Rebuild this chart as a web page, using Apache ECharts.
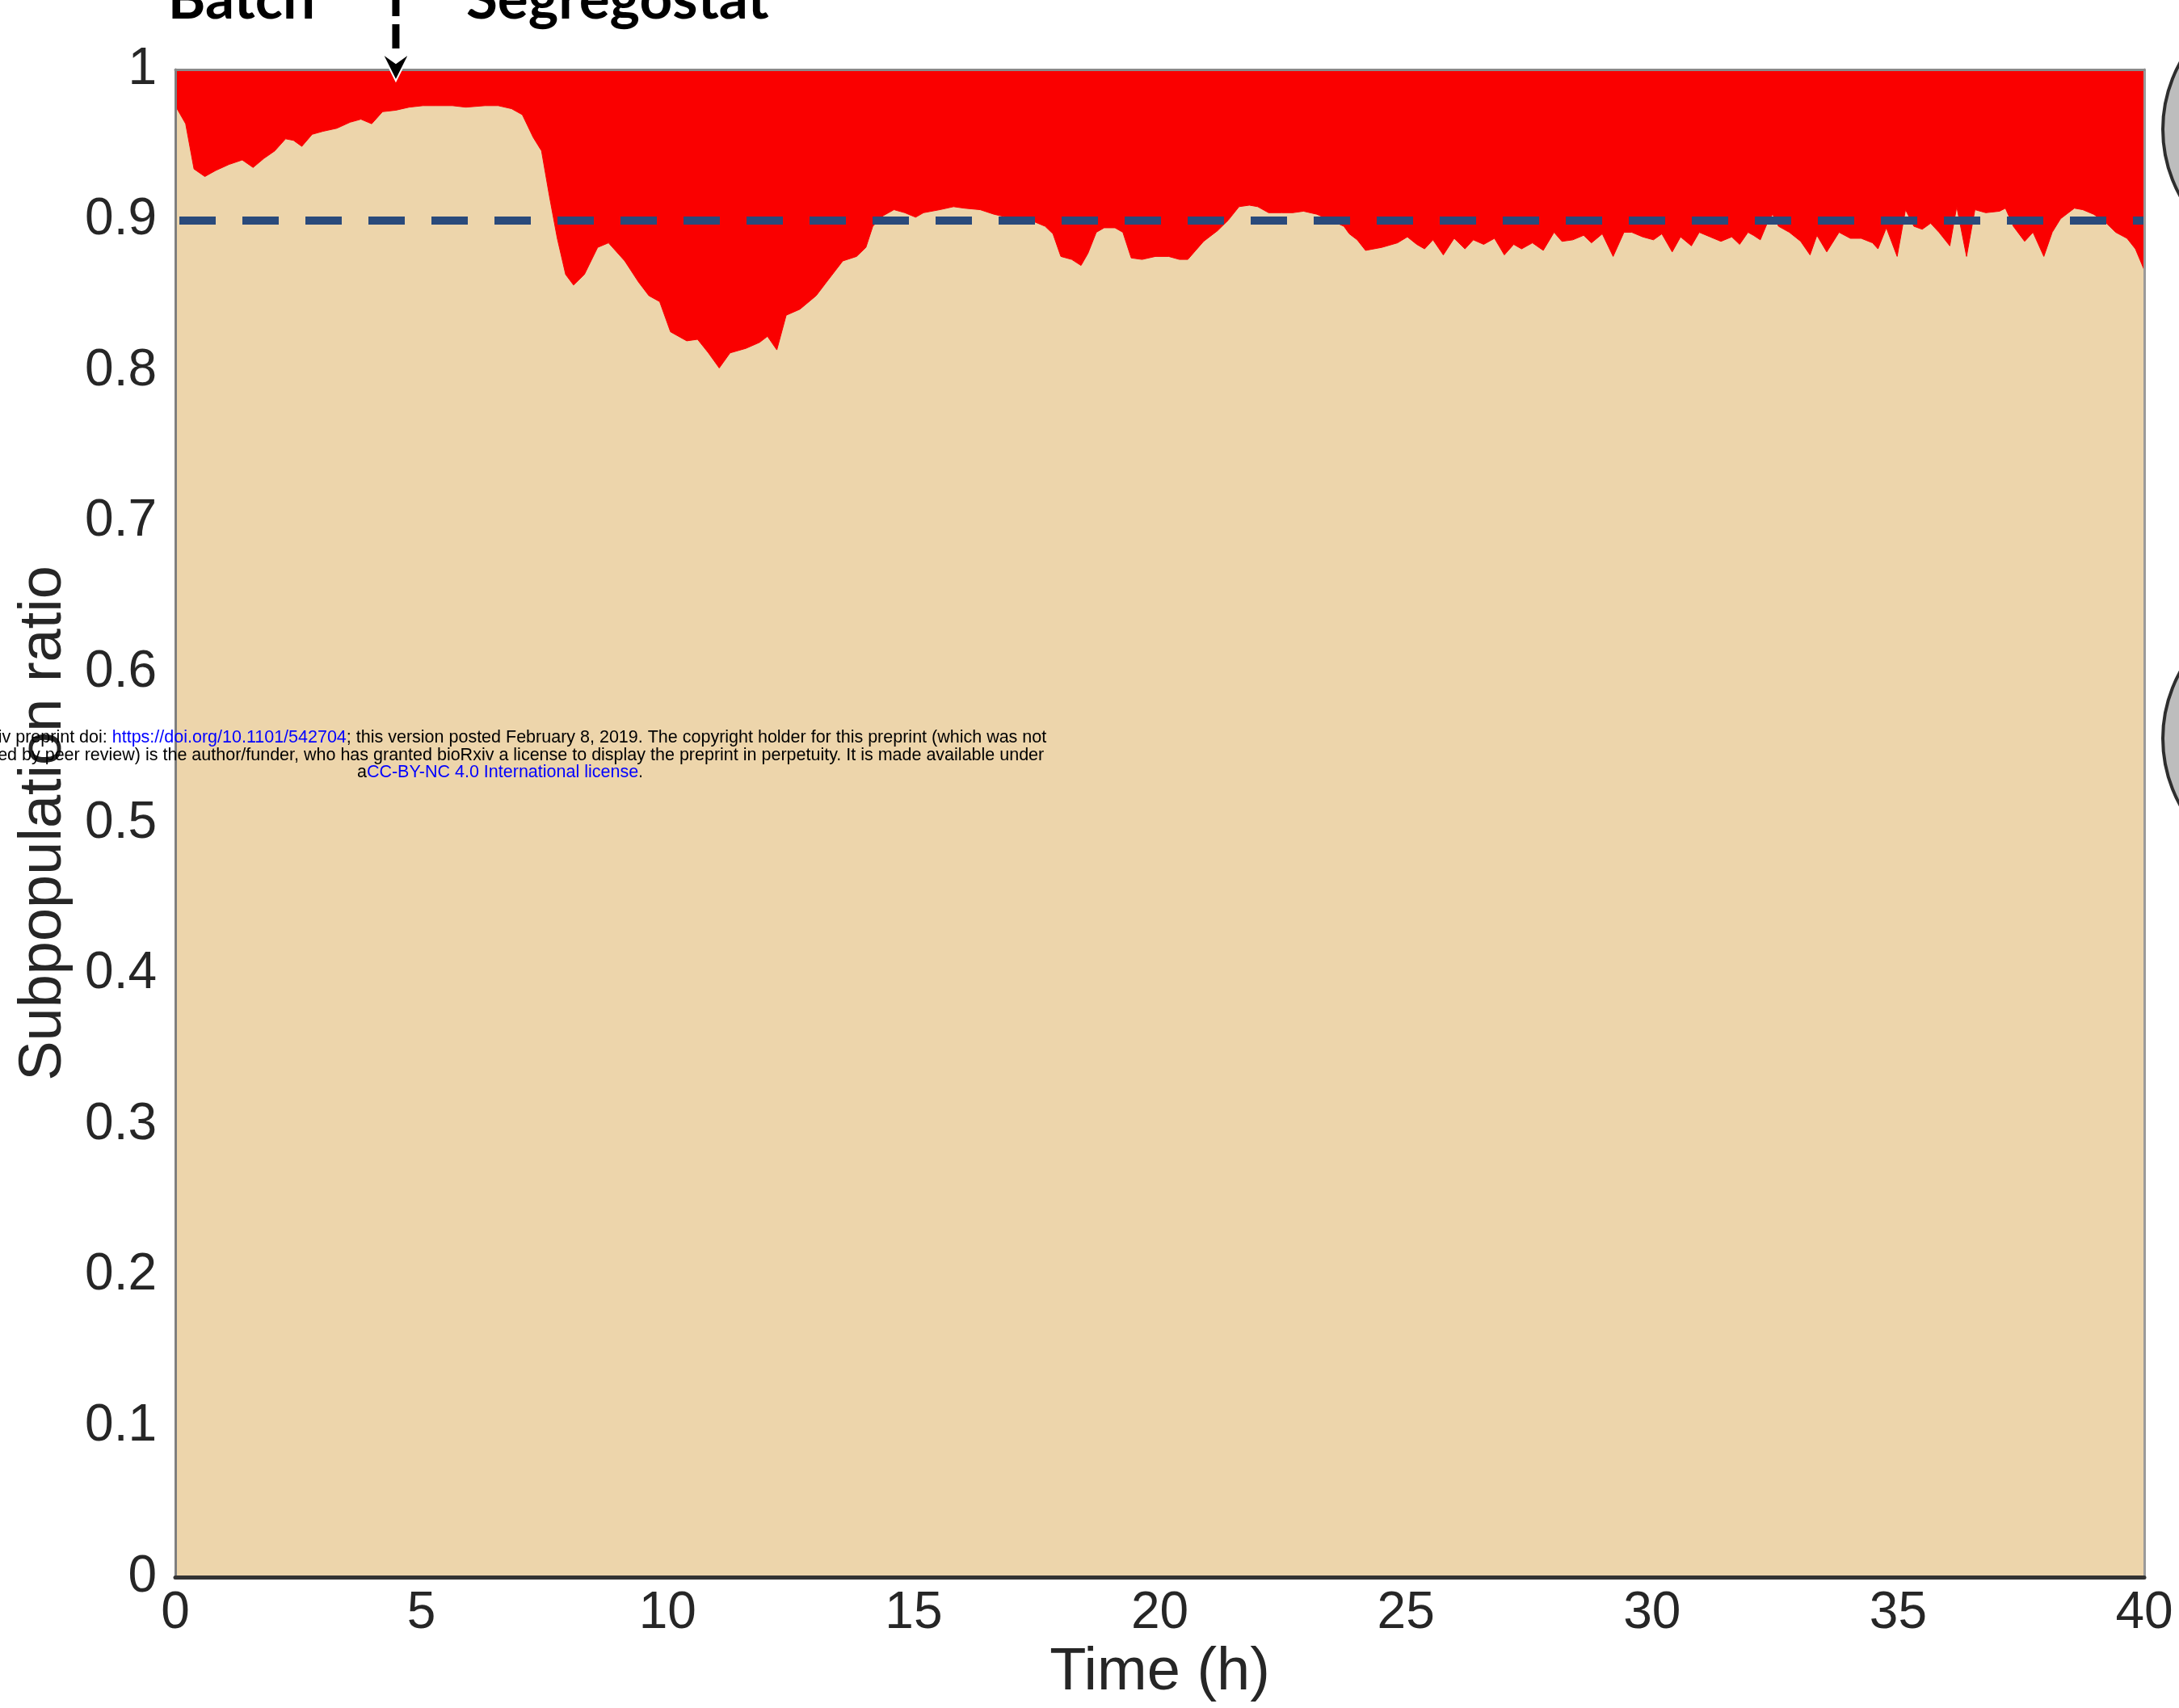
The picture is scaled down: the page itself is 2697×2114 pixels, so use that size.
<!DOCTYPE html>
<html>
<head>
<meta charset="utf-8">
<script src="https://cdn.jsdelivr.net/npm/echarts@6/dist/echarts.min.js"></script>
<style>
  html, body { margin: 0; padding: 0; background: #ffffff; }
  #chart { width: 2697px; height: 2114px; }
</style>
</head>
<body>
<div id="chart"></div>
<script>
// Time axis (h) and fraction of the majority subpopulation
const hours = [
  0.00, 0.21, 0.38, 0.60, 0.82, 1.09, 1.36, 1.58, 1.80, 2.02, 2.24, 2.40, 2.57, 2.78, 3.00,
  3.28, 3.55, 3.77, 3.99, 4.21, 4.48, 4.75, 5.03, 5.30, 5.63, 5.90, 6.29, 6.56, 6.83, 7.05,
  7.27, 7.44, 7.60, 7.76, 7.93, 8.09, 8.31, 8.58, 8.80, 9.13, 9.41, 9.62, 9.84, 10.06, 10.39,
  10.61, 10.83, 11.05, 11.27, 11.59, 11.87, 12.03, 12.22, 12.41, 12.69, 13.02, 13.23, 13.56, 13.84, 14.03,
  14.17, 14.38, 14.60, 14.82, 15.04, 15.20, 15.53, 15.81, 16.03, 16.35, 16.63, 16.90, 17.23, 17.45, 17.67,
  17.83, 17.99, 18.21, 18.40, 18.54, 18.71, 18.87, 19.09, 19.25, 19.42, 19.64, 19.91, 20.18, 20.40, 20.57,
  20.73, 20.89, 21.17, 21.39, 21.61, 21.82, 21.99, 22.21, 22.48, 22.70, 22.92, 23.19, 23.47, 23.74, 23.85,
  24.01, 24.18, 24.51, 24.83, 25.03, 25.22, 25.38, 25.55, 25.76, 25.98, 26.20, 26.37, 26.58, 26.80, 27.00,
  27.19, 27.35, 27.57, 27.79, 28.01, 28.17, 28.39, 28.61, 28.77, 28.99, 29.21, 29.43, 29.59, 29.81, 30.03,
  30.20, 30.41, 30.58, 30.80, 30.96, 31.18, 31.40, 31.62, 31.78, 31.95, 32.06, 32.20, 32.34, 32.45, 32.57,
  32.79, 33.02, 33.21, 33.35, 33.55, 33.80, 34.03, 34.25, 34.48, 34.59, 34.76, 34.98, 35.15, 35.32, 35.49,
  35.66, 35.83, 36.05, 36.19, 36.39, 36.56, 36.78, 37.06, 37.18, 37.34, 37.57, 37.74, 37.96, 38.13, 38.30,
  38.58, 38.75, 38.97, 39.20, 39.42, 39.65, 39.82, 40.00
];
const ratio = [
  0.976, 0.964, 0.934, 0.929, 0.933, 0.937, 0.940, 0.935, 0.941, 0.946, 0.954, 0.953, 0.949, 0.957, 0.959,
  0.961, 0.965, 0.967, 0.964, 0.972, 0.973, 0.975, 0.976, 0.976, 0.976, 0.975, 0.976, 0.976, 0.974, 0.970,
  0.955, 0.946, 0.916, 0.888, 0.864, 0.857, 0.864, 0.882, 0.885, 0.873, 0.859, 0.850, 0.846, 0.826, 0.820,
  0.821, 0.812, 0.802, 0.812, 0.815, 0.819, 0.823, 0.814, 0.837, 0.841, 0.850, 0.859, 0.873, 0.876, 0.882,
  0.896, 0.903, 0.907, 0.905, 0.902, 0.905, 0.907, 0.909, 0.908, 0.907, 0.904, 0.902, 0.901, 0.899, 0.896,
  0.891, 0.876, 0.874, 0.870, 0.878, 0.892, 0.895, 0.895, 0.892, 0.875, 0.874, 0.876, 0.876, 0.874, 0.874,
  0.880, 0.886, 0.893, 0.900, 0.909, 0.910, 0.909, 0.905, 0.905, 0.905, 0.906, 0.904, 0.900, 0.896, 0.891,
  0.887, 0.880, 0.882, 0.885, 0.889, 0.884, 0.881, 0.887, 0.877, 0.888, 0.881, 0.887, 0.884, 0.888, 0.877,
  0.884, 0.881, 0.885, 0.880, 0.892, 0.886, 0.887, 0.890, 0.885, 0.891, 0.876, 0.892, 0.892, 0.889, 0.887,
  0.891, 0.879, 0.889, 0.883, 0.892, 0.889, 0.886, 0.889, 0.884, 0.892, 0.890, 0.887, 0.898, 0.904, 0.896,
  0.892, 0.886, 0.877, 0.890, 0.879, 0.892, 0.888, 0.888, 0.885, 0.881, 0.895, 0.876, 0.907, 0.896, 0.894,
  0.898, 0.892, 0.883, 0.909, 0.876, 0.907, 0.905, 0.906, 0.908, 0.896, 0.886, 0.892, 0.876, 0.892, 0.901,
  0.908, 0.907, 0.904, 0.899, 0.892, 0.888, 0.881, 0.867
];
const setPoint = 0.897;        // controller threshold
const switchTime = 4.48;       // batch -> segregostat switch (h)
const phaseLabels = ['Batch', 'Segregostat'];
const yTickLabels = ['0', '0.1', '0.2', '0.3', '0.4', '0.5', '0.6', '0.7', '0.8', '0.9', '1'];
const xTickLabels = ['0', '5', '10', '15', '20', '25', '30', '35', '40'];

const FONT = 'Liberation Sans, Arial, sans-serif';
const BEIGE = '#edd5ab';
const RED = '#fa0000';

const points = hours.map((h, i) => [h, ratio[i]]);

const chart = echarts.init(document.getElementById('chart'), null, { renderer: 'canvas' });

const option = {
  animation: false,
  backgroundColor: '#ffffff',
  grid: { left: 217, right: 43, top: 86, bottom: 162, containLabel: false },
  xAxis: [
    {
      type: 'value', min: 0, max: 40, interval: 5, position: 'bottom', z: 10,
      name: 'Time (h)', nameLocation: 'middle', nameGap: 80,
      nameTextStyle: { fontSize: 74, color: '#262626', fontFamily: FONT },
      axisLine: { show: true, onZero: false, lineStyle: { color: '#333333', width: 5 } },
      axisTick: { show: false },
      splitLine: { show: false },
      axisLabel: {
        fontSize: 64, color: '#262626', fontFamily: FONT, margin: 13,
        formatter: v => xTickLabels[Math.round(v / 5)]
      }
    },
    {
      type: 'value', min: 0, max: 40, position: 'top', z: 10,
      axisLine: { show: true, onZero: false, lineStyle: { color: '#8a8a8a', width: 3 } },
      axisTick: { show: false }, axisLabel: { show: false }, splitLine: { show: false }
    }
  ],
  yAxis: [
    {
      type: 'value', min: 0, max: 1, interval: 0.1, position: 'left', z: 10,
      name: 'Subpopulation ratio', nameLocation: 'middle', nameGap: 125,
      nameTextStyle: { fontSize: 74, color: '#262626', fontFamily: FONT },
      axisLine: { show: true, onZero: false, lineStyle: { color: '#7f7f7f', width: 3 } },
      axisTick: { show: false },
      splitLine: { show: false },
      axisLabel: {
        fontSize: 64, color: '#262626', fontFamily: FONT, margin: 23,
        formatter: v => yTickLabels[Math.round(v * 10)]
      }
    },
    {
      type: 'value', min: 0, max: 1, position: 'right', z: 10,
      axisLine: { show: true, onZero: false, lineStyle: { color: '#9a9a9a', width: 3 } },
      axisTick: { show: false }, axisLabel: { show: false }, splitLine: { show: false }
    }
  ],
  series: [
    {
      name: 'majority', type: 'line', data: points, showSymbol: false, z: 2,
      lineStyle: { width: 1, color: BEIGE },
      areaStyle: { color: BEIGE, opacity: 1, origin: 'start' }
    },
    {
      name: 'minority', type: 'line', data: points, showSymbol: false, z: 3,
      lineStyle: { width: 1, color: RED },
      areaStyle: { color: RED, opacity: 1, origin: 'end' }
    },
    {
      name: 'set point', type: 'line', data: [], z: 5,
      markLine: {
        silent: true, symbol: ['none', 'none'], label: { show: false },
        lineStyle: { color: '#2a4a7b', width: 10, type: [45, 33], dashOffset: 73, cap: 'butt' },
        data: [{ yAxis: setPoint }]
      }
    }
  ]
};

chart.setOption(option);

// Phase annotation and side decorations
const ax = chart.convertToPixel({ gridIndex: 0 }, [switchTime, 1])[0];
const wmFont = { fontSize: 21.5, fontFamily: FONT };
chart.setOption({
  graphic: [
    {
      type: 'line', z: 20,
      shape: { x1: ax, y1: -10, x2: ax, y2: 64 },
      style: { stroke: '#000', lineWidth: 9, lineDash: [30, 10] }
    },
    {
      type: 'polygon', z: 20,
      shape: { points: [[ax - 17, 66], [ax, 78], [ax + 17, 66], [ax, 100]] },
      style: { fill: '#000', stroke: '#ffffff', lineWidth: 2 }
    },
    {
      type: 'text', z: 20, x: ax - 100, y: 36,
      style: { text: phaseLabels[0], font: 'bold 71px Lato, "Open Sans", sans-serif', fill: '#000', align: 'right', verticalAlign: 'bottom' }
    },
    {
      type: 'text', z: 20, x: ax + 87, y: 36,
      style: { text: phaseLabels[1], font: 'bold 71px Lato, "Open Sans", sans-serif', fill: '#000', align: 'left', verticalAlign: 'bottom' }
    },
    {
      type: 'circle', z: 20, shape: { cx: 2847, cy: 160, r: 170 },
      style: { fill: '#bdbdbd', stroke: '#2e2e2e', lineWidth: 4 }
    },
    {
      type: 'circle', z: 20, shape: { cx: 2847, cy: 914, r: 170 },
      style: { fill: '#bdbdbd', stroke: '#2e2e2e', lineWidth: 4 }
    },
    {
      type: 'text', z: 30, x: 619, y: 913,
      style: {
        text: '{k|bioRxiv preprint doi: }{b|https://doi.org/10.1101/542704}{k|; this version posted February 8, 2019. The copyright holder for this preprint (which was not}',
        rich: { k: Object.assign({ fill: '#000' }, wmFont), b: Object.assign({ fill: '#0000ff' }, wmFont) },
        align: 'center', verticalAlign: 'middle', font: '21.5px ' + FONT
      }
    },
    {
      type: 'text', z: 30, x: 619, y: 935,
      style: {
        text: 'certified by peer review) is the author/funder, who has granted bioRxiv a license to display the preprint in perpetuity. It is made available under',
        fill: '#000', align: 'center', verticalAlign: 'middle', font: '21.5px ' + FONT
      }
    },
    {
      type: 'text', z: 30, x: 619, y: 956,
      style: {
        text: '{k|a}{b|CC-BY-NC 4.0 International license}{k|.}',
        rich: { k: Object.assign({ fill: '#000' }, wmFont), b: Object.assign({ fill: '#0000ff' }, wmFont) },
        align: 'center', verticalAlign: 'middle', font: '21.5px ' + FONT
      }
    }
  ]
});
</script>
</body>
</html>
